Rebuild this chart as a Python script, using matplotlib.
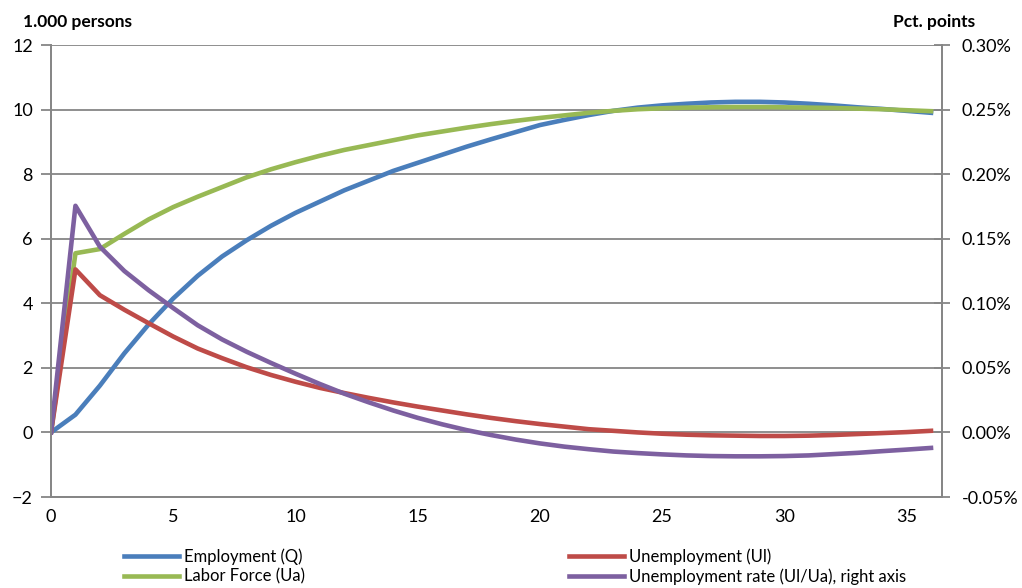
import matplotlib
matplotlib.use("Agg")
import matplotlib.pyplot as plt
from matplotlib.ticker import FuncFormatter

plt.rcParams['font.family'] = ['Lato', 'DejaVu Sans']

# quarters after the shock
periods = list(range(0, 37))

# 1.000 persons
employment = [0, 0.55, 1.45, 2.45, 3.35, 4.15, 4.85, 5.45, 5.95, 6.4, 6.8,
              7.15, 7.5, 7.8, 8.1, 8.35, 8.6, 8.85, 9.08, 9.3, 9.52, 9.68,
              9.83, 9.96, 10.06, 10.13, 10.18, 10.22, 10.24, 10.24, 10.22,
              10.18, 10.13, 10.07, 10.02, 9.96, 9.9]
labor_force = [0, 5.55, 5.68, 6.15, 6.6, 6.98, 7.3, 7.6, 7.9, 8.15, 8.37,
               8.57, 8.75, 8.9, 9.05, 9.2, 9.32, 9.44, 9.55, 9.65, 9.74, 9.82,
               9.9, 9.96, 10.01, 10.04, 10.06, 10.07, 10.08, 10.08, 10.07,
               10.06, 10.05, 10.03, 10.01, 9.98, 9.95]
unemployment = [0, 5.05, 4.25, 3.8, 3.38, 2.97, 2.6, 2.3, 2.02, 1.78, 1.57,
                1.38, 1.22, 1.07, 0.93, 0.8, 0.68, 0.56, 0.45, 0.35, 0.26,
                0.18, 0.1, 0.05, 0.0, -0.04, -0.07, -0.09, -0.1, -0.11, -0.11,
                -0.1, -0.08, -0.05, -0.02, 0.01, 0.05]
# pct. points
unemp_rate = [0, 0.1755, 0.1438, 0.125, 0.11, 0.0963, 0.083, 0.072, 0.0625,
              0.0538, 0.0455, 0.0375, 0.03, 0.0233, 0.017, 0.0113, 0.0063,
              0.0018, -0.002, -0.0055, -0.0085, -0.011, -0.013, -0.0148,
              -0.016, -0.017, -0.0178, -0.0183, -0.0185, -0.0185, -0.0183,
              -0.0178, -0.0168, -0.0158, -0.0145, -0.0133, -0.012]

blue = '#4A7EBB'
red = '#BE4B48'
green = '#98B954'
purple = '#7D60A0'
grid_col = '#868686'
lw = 3.3

fig = plt.figure(figsize=(10.22, 5.88), dpi=100)
ax = fig.add_axes([51 / 1022, 1 - 497 / 588, (942 - 51) / 1022, (497 - 45) / 588])
ax2 = ax.twinx()

l1, = ax.plot(periods, employment, color=blue, lw=lw, label='Employment (Q)')
l2, = ax.plot(periods, labor_force, color=green, lw=lw, label='Labor Force (Ua)')
l3, = ax.plot(periods, unemployment, color=red, lw=lw, label='Unemployment (Ul)')
l4, = ax2.plot(periods, unemp_rate, color=purple, lw=lw,
               label='Unemployment rate (Ul/Ua), right axis')

ax.set_xlim(0, 36.45)
ax.set_ylim(-2, 12)
ax2.set_ylim(-0.05, 0.30)
ax.set_xticks(range(0, 36, 5))
ax.set_yticks(range(-2, 13, 2))
ax2.set_yticks([-0.05, 0, 0.05, 0.10, 0.15, 0.20, 0.25, 0.30])
ax2.yaxis.set_major_formatter(FuncFormatter(lambda v, p: f'{v:.2f}%'))

ax.grid(axis='y', color=grid_col, lw=1.3)
ax.set_axisbelow(True)
for a in (ax, ax2):
    for s in a.spines.values():
        s.set_color(grid_col)
        s.set_linewidth(1.3)
    a.spines['top'].set_visible(False)

ax.tick_params(axis='y', direction='out', length=7, width=1.3, color=grid_col,
               labelsize=13, pad=6)
ax.tick_params(axis='x', length=0, labelsize=13, pad=9)
ax2.tick_params(axis='y', direction='inout', length=12, width=1.3, color=grid_col,
                labelsize=13, pad=8)

fig.text(23 / 1022, 1 - 22 / 588, '1.000 persons', fontsize=12.5, fontweight='bold',
         va='center', ha='left')
fig.text(975 / 1022, 1 - 22 / 588, 'Pct. points', fontsize=12.5, fontweight='bold',
         va='center', ha='right')

fig.legend(handles=[l1, l2, l3, l4], ncol=2, loc='upper left',
           bbox_to_anchor=(116 / 1022, 1 - 540 / 588), frameon=False,
           fontsize=12, handlelength=3.3, handletextpad=0.3,
           columnspacing=15.8, labelspacing=0.2, borderpad=0)

fig.savefig('out.png', dpi=100)
